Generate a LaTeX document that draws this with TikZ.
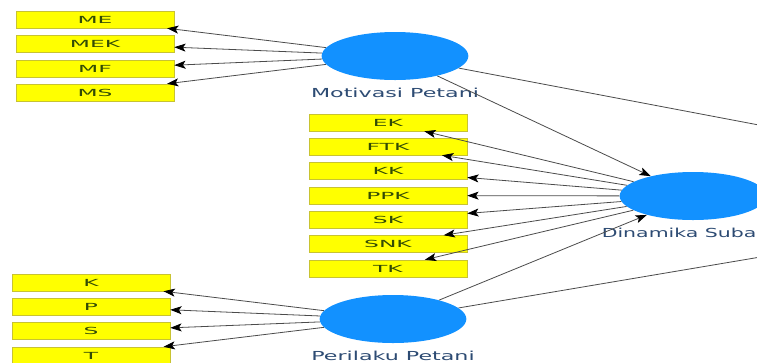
\documentclass[tikz,border=0pt]{standalone}
\usepackage{fontspec}
\setmainfont{DejaVu Sans}
\usepackage{graphicx}
\usetikzlibrary{arrows.meta,positioning,shapes.geometric}

\definecolor{lvblue}{RGB}{18,145,255}
\definecolor{mvyellow}{RGB}{255,255,0}
\definecolor{mvborder}{RGB}{200,195,50}
\definecolor{mvtext}{RGB}{50,75,5}
\definecolor{lvtext}{RGB}{45,75,115}
\definecolor{pathgray}{RGB}{75,75,75}

% stretched text as in the model view
\newcommand{\mvtxt}[1]{\scalebox{2.4}[1]{#1}}
\newcommand{\lvtxt}[2][1.79]{\scalebox{#1}[1]{#2}}

\begin{document}
\begin{tikzpicture}[
  x=0.75pt, y=-0.75pt,
  latent/.style={ellipse, fill=lvblue, minimum width=110pt, minimum height=36pt, inner sep=0pt},
  lvname/.style={inner sep=0pt, text=lvtext, font=\fontsize{9.3}{10}\selectfont},
  indicator/.style={rectangle, draw=mvborder, fill=mvyellow, minimum width=118.5pt, minimum height=12.75pt, inner sep=0pt, text=mvtext, font=\fontsize{7.3}{8}\selectfont},
  link/.style={draw=pathgray, line width=0.6pt, -{Stealth[length=8.5pt, width=6pt, inset=2pt, color=black]}}
]
\path[use as bounding box, clip] (0,0) rectangle (757,362);

% Latent variables
\node[latent] (motivasi) at (395,56) {};
\node[latent] (dinamika) at (693,196) {};
\node[latent] (perilaku) at (393,319) {};
\node[lvname, below=5.8pt of motivasi] (motivasi-name) {\lvtxt{Motivasi Petani}};
\node[lvname, below=5.8pt of dinamika, xshift=-6pt] (dinamika-name) {\lvtxt[1.65]{Dinamika Subak}};
\node[lvname, below=5.8pt of perilaku] (perilaku-name) {\lvtxt{Perilaku Petani}};

% next construct lies to the right
\coordinate (kinerja) at (1128,195);

% Indicators of Motivasi Petani
\node[indicator] (me)  at (95,19.5) {\mvtxt{ME}};
\node[indicator] (mek) at (95,44)   {\mvtxt{MEK}};
\node[indicator] (mf)  at (95,68.5) {\mvtxt{MF}};
\node[indicator] (ms)  at (95,92.5) {\mvtxt{MS}};

% Indicators of Dinamika Subak
\node[indicator] (ek)  at (388,122.5) {\mvtxt{EK}};
\node[indicator] (ftk) at (388,146.5) {\mvtxt{FTK}};
\node[indicator] (kk)  at (388,171)   {\mvtxt{KK}};
\node[indicator] (ppk) at (388,195.5) {\mvtxt{PPK}};
\node[indicator] (sk)  at (388,219.5) {\mvtxt{SK}};
\node[indicator] (snk) at (388,244)   {\mvtxt{SNK}};
\node[indicator] (tk)  at (388,268.5) {\mvtxt{TK}};

% Indicators of Perilaku Petani
\node[indicator] (k) at (91,282.5) {\mvtxt{K}};
\node[indicator] (p) at (91,306.5) {\mvtxt{P}};
\node[indicator] (s) at (91,331)   {\mvtxt{S}};
\node[indicator] (t) at (91,355.5) {\mvtxt{T}};

% Outer model
\draw[link] (motivasi) -- (me);
\draw[link] (motivasi) -- (mek);
\draw[link] (motivasi) -- (mf);
\draw[link] (motivasi) -- (ms);

\draw[link] (dinamika) -- (ek);
\draw[link] (dinamika) -- (ftk);
\draw[link] (dinamika) -- (kk);
\draw[link] (dinamika) -- (ppk);
\draw[link] (dinamika) -- (sk);
\draw[link] (dinamika) -- (snk);
\draw[link] (dinamika) -- (tk);

\draw[link] (perilaku) -- (k);
\draw[link] (perilaku) -- (p);
\draw[link] (perilaku) -- (s);
\draw[link] (perilaku) -- (t);

% Inner model
\draw[link] (motivasi) -- (dinamika);
\draw[link] (perilaku) -- (dinamika);
\draw[link] (motivasi) -- (kinerja);
\draw[link] (perilaku) -- (kinerja);

\end{tikzpicture}
\end{document}
